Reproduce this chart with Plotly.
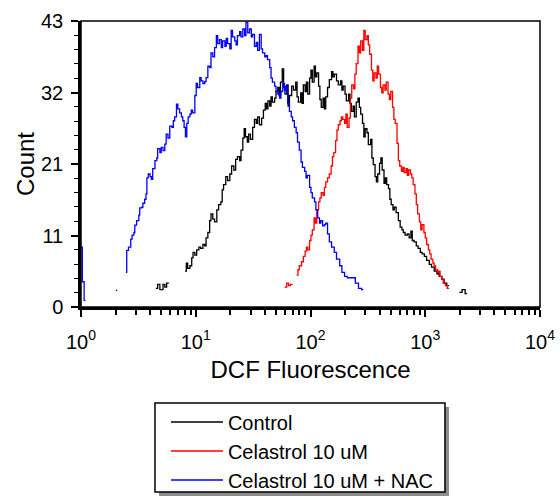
import plotly.graph_objects as go

# channels on a 1024-channel, 4-decade log scale (value = 10**(ch/256)); None = gap
control_ch = [167, 171, 176, 183, 187, 191, 196, None,
              232, 235, 238, 243, 247, 250, 254, 258, 263, 267, 272, 276, 279, 283, 287, 290,
              294, 298, 303, 307, 312, 315, 318, 323, 327, 332, 336, 341, 345, 349, 354, 357,
              361, 364, 367, 371, 374, 378, 383, 387, 391, 394, 398, 403, 407, 411, 414, 417,
              421, 424, 427, 432, 435, 439, 442, 445, 449, 452, 455, 459, 462, 465, 470, 474,
              479, 482, 485, 490, 493, 496, 500, 503, 506, 510, 513, 516, 520, 523, 526, 530,
              533, 536, 540, 543, 546, 550, 554, 559, 562, 565, 570, 574, 579, 582, 585, 589,
              592, 597, 600, 603, 607, 610, 614, 618, 621, 624, 628, 631, 634, 638, 641, 646,
              649, 652, 656, 659, 662, 666, 669, 672, 676, 679, 682, 686, 689, 692, 696, 699,
              703, 708, 712, 716, 719, 723, 728, 732, 736, 739, 743, 748, 752, 757, 761, 766,
              771, 777, 782, 788, 794, 799, 805, 810, 816, 821, None,
              844, 850, 857, 861]
control_count = [2.8, 3.4, 2.6, 3.4, 3.0, 3.6, 3.6, None,
                 5.4, 6.6, 5.8, 6.2, 7.4, 8.2, 7.8, 8.6, 9.0, 8.8, 9.4, 9.2, 10.4, 11.2, 13.0, 14.0,
                 13.2, 12.8, 14.6, 15.4, 15.8, 17.6, 18.4, 19.6, 19.0, 20.0, 21.2, 20.6, 22.2, 22.6, 22.0, 23.6,
                 25.4, 26.8, 25.6, 24.8, 26.0, 25.2, 27.0, 28.2, 27.6, 28.6, 27.4, 28.4, 29.6, 30.6, 29.8, 31.0,
                 30.2, 31.6, 30.8, 31.4, 32.4, 33.0, 31.8, 33.8, 35.8, 33.0, 32.0, 33.4, 30.2, 31.8, 33.2, 32.6,
                 33.8, 31.6, 30.8, 32.2, 30.6, 33.4, 32.4, 33.8, 32.0, 34.4, 35.6, 33.8, 36.2, 34.6, 35.2, 33.2,
                 31.2, 30.0, 31.4, 29.8, 31.6, 33.0, 34.2, 35.4, 34.6, 35.0, 34.0, 33.4, 34.0, 32.6, 33.2, 32.0,
                 31.0, 32.0, 30.6, 29.4, 30.2, 28.6, 30.8, 31.4, 30.0, 29.0, 27.6, 25.6, 26.8, 26.2, 24.4, 25.2,
                 22.4, 21.4, 19.6, 18.8, 20.0, 21.6, 22.4, 20.6, 18.6, 19.4, 18.4, 17.8, 16.2, 15.4, 14.6, 15.0,
                 14.2, 13.0, 12.0, 11.6, 11.2, 10.8, 11.0, 10.4, 11.4, 10.0, 9.8, 9.2, 8.8, 8.2, 8.0, 7.6,
                 7.0, 6.4, 6.0, 5.4, 5.0, 4.6, 4.2, 3.6, 3.2, 3.2, None,
                 2.2, 2.6, 2.0, 2.0]

celastrol_ch = [454, 459, 463, 467, 472, None,
                481, 484, 487, 492, 496, 500, 503, 506, 510, 513, 516, 520, 523, 526, 530, 533, 536,
                540, 543, 546, 550, 554, 558, 561, 564, 568, 571, 574, 578, 581, 584, 588, 591, 594,
                598, 601, 604, 608, 611, 614, 618, 621, 624, 628, 631, 634, 638, 641, 644, 648, 651,
                654, 658, 661, 664, 668, 671, 674, 678, 681, 685, 688, 691, 695, 698, 701, 705, 708,
                711, 715, 718, 721, 725, 728, 731, 735, 738, 741, 745, 748, 751, 755, 758, 761, 765,
                768, 771, 775, 778, 781, 785, 788, 791, 795, 798, 801, 805, 808, 813, 817, 821]
celastrol_count = [3.0, 3.6, 3.2, 3.4, 3.4, None,
                   4.8, 5.6, 6.2, 6.8, 7.6, 8.4, 9.0, 8.6, 10.0, 10.8, 11.6, 13.4, 12.6, 14.6, 15.8, 16.4, 17.2,
                   16.8, 18.0, 18.8, 19.4, 20.0, 21.2, 22.6, 23.2, 25.0, 26.6, 27.4, 28.0, 28.6, 28.2, 27.6, 29.0, 27.0,
                   28.4, 31.4, 33.4, 32.8, 35.0, 36.6, 39.2, 38.2, 40.0, 38.6, 41.6, 40.2, 40.8, 39.4, 38.0, 35.6, 34.0,
                   35.2, 34.4, 36.2, 35.0, 33.0, 32.2, 33.4, 32.6, 33.8, 32.0, 31.2, 32.4, 30.0, 28.2, 27.6, 24.6, 22.0,
                   21.2, 20.4, 21.0, 20.2, 20.8, 19.8, 20.6, 20.0, 19.4, 18.4, 17.0, 15.4, 14.0, 12.8, 11.6, 12.4, 11.2,
                   10.4, 9.4, 8.6, 8.0, 7.2, 6.6, 6.2, 5.6, 5.2, 5.4, 4.6, 4.2, 3.6, 3.2, 2.8, 2.8]

nac_ch = [0, 3, 7, 10, None, 78, 81, None,
          100, 102, 106, 111, 114, 118, 120, 124, 129, 131, 136, 138, 142, 145, 147, 150,
          154, 157, 160, 165, 169, 171, 176, 179, 183, 187, 190, 194, 198, 203, 206, 209, 213,
          216, 220, 224, 227, 230, 233, 236, 239, 243, 246, 249, 254, 257, 260, 265, 268, 272,
          276, 279, 283, 287, 290, 294, 298, 302, 305, 309, 313, 316, 321, 324, 327, 332, 335,
          338, 343, 346, 349, 354, 357, 361, 365, 368, 372, 376, 380, 383, 387, 391, 394, 398,
          402, 405, 410, 413, 416, 421, 424, 427, 432, 435, 439, 443, 446, 450, 454, 457, 461,
          465, 469, 472, 476, 480, 483, 487, 491, 494, 499, 502, 505, 510, 513, 516, 521, 524,
          528, 532, 535, 539, 543, 546, 550, 554, 559, 565, 570, 577, 582, 588, 594, 603, 612,
          619, 626, 630]
nac_count = [9.0, 3.8, 1.0, 1.0, None, 2.5, 2.5, None,
             5.2, 8.5, 9.0, 10.2, 10.8, 11.2, 12.3, 13.0, 13.8, 14.9, 15.0, 15.6, 16.2, 17.0, 19.4, 20.0,
             19.6, 19.2, 20.8, 22.0, 22.4, 23.8, 23.2, 24.0, 23.5, 24.5, 26.0, 25.4, 27.2, 27.0, 28.0, 28.6, 30.5,
             29.8, 29.2, 28.6, 28.0, 27.0, 25.6, 27.6, 28.6, 29.0, 29.6, 29.2, 31.8, 33.6, 33.0, 34.5, 34.0, 33.6,
             33.9, 34.5, 36.2, 36.0, 38.2, 37.6, 39.0, 40.8, 39.6, 40.2, 39.0, 40.0, 39.2, 40.4, 39.6, 38.8, 41.6,
             40.6, 40.0, 39.4, 40.8, 41.4, 40.6, 41.8, 40.8, 42.8, 41.2, 41.8, 40.6, 41.0, 39.2, 39.8, 38.6, 41.0,
             38.8, 38.2, 37.6, 37.8, 37.2, 36.0, 34.4, 33.8, 33.2, 32.4, 32.0, 31.4, 32.4, 33.6, 32.6, 33.2, 30.6,
             29.4, 28.6, 28.0, 27.0, 26.2, 24.8, 23.6, 21.8, 21.0, 20.4, 19.4, 19.8, 18.0, 17.2, 16.4, 15.8, 14.6,
             13.4, 12.6, 13.0, 12.2, 12.4, 12.6, 11.0, 9.8, 9.0, 8.2, 7.2, 6.2, 5.2, 4.6, 4.4, 4.4, 3.6,
             2.8, 2.6, 2.6]

series_names = ["Control", "Celastrol 10 uM", "Celastrol 10 uM + NAC"]
series_colors = ["#000000", "#ff0000", "#0000ff"]

y_tickvals = [0, 10.75, 21.5, 32.25, 43]
y_ticktext = ["0", "11", "21", "32", "43"]
x_tickvals = [1, 10, 100, 1000, 10000]
x_ticktext = ["10<sup>0</sup>", "10<sup>1</sup>", "10<sup>2</sup>", "10<sup>3</sup>", "10<sup>4</sup>"]


def to_fl(chs):
    return [None if c is None else 10 ** (c / 256) for c in chs]


fig = go.Figure()
for name, color, ch, cnt in zip(series_names, series_colors,
                                [control_ch, celastrol_ch, nac_ch],
                                [control_count, celastrol_count, nac_count]):
    fig.add_trace(go.Scatter(x=to_fl(ch), y=cnt, mode="lines", name=name,
                             line=dict(color=color, width=1.3, shape="hv"),
                             connectgaps=False))

minor_x = [k * 10 ** d for d in range(4) for k in range(2, 10)]

fig.update_xaxes(type="log", range=[0, 4], tickvals=x_tickvals, ticktext=x_ticktext,
                 ticks="outside", ticklen=7, tickwidth=2, tickcolor="black", ticklabelstandoff=8,
                 showline=True, linewidth=2.5, linecolor="black", showgrid=False, zeroline=False,
                 automargin=False,
                 minor=dict(tickvals=minor_x, ticks="outside", ticklen=5, tickwidth=1.5, tickcolor="black"),
                 tickfont=dict(size=20, color="black"),
                 title=dict(text="DCF Fluorescence", font=dict(size=24, color="black"), standoff=10))
fig.update_yaxes(range=[0, 43], tickvals=y_tickvals, ticktext=y_ticktext,
                 ticks="outside", ticklen=7, tickwidth=1.5, tickcolor="black", ticklabelstandoff=4,
                 showline=True, linewidth=2.5, linecolor="black", showgrid=False, zeroline=False,
                 automargin=False,
                 minor=dict(tick0=0, dtick=2.15, ticks="outside", ticklen=4, tickwidth=1, tickcolor="black"),
                 tickfont=dict(size=20, color="black"),
                 title=dict(text="Count", font=dict(size=24, color="black"), standoff=0))

# frame around plot area, legend shadow and legend box
fig.add_shape(type="rect", xref="paper", yref="paper", x0=0, y0=0, x1=1, y1=1,
              line=dict(color="black", width=1.5), layer="above")
fig.add_shape(type="rect", xref="paper", yref="paper", x0=0.1699, y0=-0.6608, x1=0.8017, y1=-0.3497,
              line=dict(width=0), fillcolor="#8c8c8c", layer="below")
fig.add_shape(type="rect", xref="paper", yref="paper", x0=0.1612, y0=-0.6469, x1=0.7930, y1=-0.3357,
              line=dict(color="black", width=1.5), fillcolor="white", layer="below")

fig.update_layout(
    width=560, height=498,
    margin=dict(l=81, r=20, t=21, b=191, autoexpand=False),
    paper_bgcolor="white", plot_bgcolor="white",
    font=dict(family="Liberation Sans, Arial, sans-serif", color="black"),
    showlegend=True,
    legend=dict(x=0.185, y=-0.334, xanchor="left", yanchor="top",
                bgcolor="rgba(0,0,0,0)", borderwidth=0,
                font=dict(size=20, color="black"), itemwidth=52, tracegroupgap=0),
)

fig.write_html("out.html", config={"displayModeBar": False},
               post_script="document.body.style.margin='0';")
